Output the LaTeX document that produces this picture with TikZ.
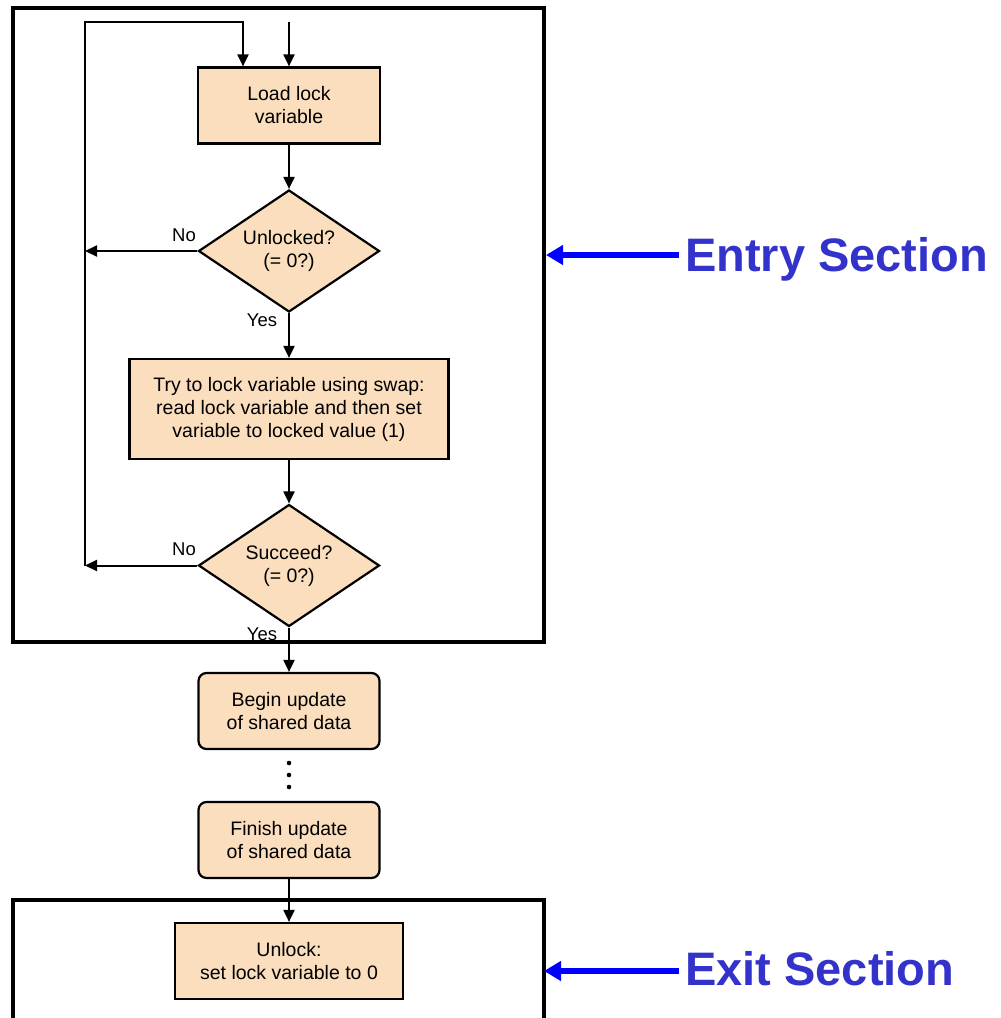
\documentclass[tikz,border=0pt]{standalone}
\usepackage{fontspec}
\setmainfont{Liberation Sans}
\usetikzlibrary{shapes.geometric,arrows.meta}
\definecolor{boxfill}{RGB}{250,222,190}
\definecolor{sectionblue}{RGB}{51,51,204}
\begin{document}
\begin{tikzpicture}[x=1pt,y=-1pt,
  every node/.style={font=\fontsize{19.5}{23}\selectfont, align=center, inner sep=0pt},
  procbox/.style={draw=black, line width=2.2pt, fill=boxfill, rectangle, minimum height=76pt},
  roundbox/.style={procbox, rounded corners=8pt},
  decision/.style={draw=black, diamond, line width=2.2pt, fill=boxfill,
    minimum width=181pt, minimum height=122pt, aspect=1.48},
  flow/.style={line width=2pt, -{Triangle[length=12pt,width=11pt]}},
  frame/.style={line width=4pt},
  callout/.style={draw=blue, line width=5.5pt, -{Triangle[length=17pt,width=19pt]}},
  sectionlabel/.style={font=\fontsize{47}{56}\selectfont\bfseries, text=sectionblue, anchor=base west},
  branch/.style={font=\fontsize{18.5}{22}\selectfont}
]
\useasboundingbox (0,0) rectangle (1001,1018);

% process steps
\node[procbox, minimum width=182pt] (load) at (289,105.5) {Load lock\\variable};
\node[decision] (unlocked) at (289,251) {Unlocked?\\(= 0?)};
\node[procbox, minimum width=319pt, minimum height=100pt] (swap) at (289,409)
  {Try to lock variable using swap:\\read lock variable and then set\\variable to locked value (1)};
\node[decision] (succeed) at (289,565.5) {Succeed?\\(= 0?)};
\node[roundbox, minimum width=181pt] (begin) at (289,711) {Begin update\\of shared data};
\node[roundbox, minimum width=181pt] (finish) at (289,840) {Finish update\\of shared data};
\node[procbox, minimum width=228pt] (unlock) at (289,961) {Unlock:\\set lock variable to 0};

% entry and retry loop
\coordinate (entryIn) at (289,22);
\coordinate (loopTop) at (85,22);
\coordinate (loopIn) at (243,22);
\coordinate (loopBot) at (succeed.west -| loopTop);

\draw[flow] (entryIn) -- (load.north);
\draw[flow] (loopBot) -- (loopTop) -- (loopIn) -- (loopIn |- load.north);
\draw[flow] (unlocked.west) -- (unlocked.west -| loopTop);
\draw[flow] (succeed.west) -- (loopBot);

% main flow
\draw[flow] (load.south) -- (unlocked.north);
\draw[flow] (unlocked.south) -- (swap.north);
\draw[flow] (swap.south) -- (succeed.north);
\draw[flow] (succeed.south) -- (begin.north);
\draw[flow] (finish.south) -- (unlock.north);

% branch labels
\node[branch] (no1) at (184,235) {No};
\node[branch] (yes1) at (262,320) {Yes};
\node[branch] (no2) at (184,549) {No};
\node[branch] (yes2) at (262,634) {Yes};

% elided steps
\fill (289,763) circle (2.3pt);
\fill (289,775) circle (2.3pt);
\fill (289,787) circle (2.3pt);

% section frames
\node[draw=black, frame, minimum width=531pt, minimum height=634pt] (entry) at (278.5,325) {};
\coordinate (exitBL) at (13,1030);
\coordinate (exitTL) at (13,900);
\coordinate (exitTR) at (544,900);
\coordinate (exitBR) at (544,1030);
\draw[frame] (exitBL) -- (exitTL) -- (exitTR) -- (exitBR);

% section callouts
\node[sectionlabel] (entryLabel) at (685,271) {Entry Section};
\node[sectionlabel] (exitLabel) at (685,985) {Exit Section};
\coordinate (entryTail) at (679,255);
\coordinate (exitTail) at (679,971);
\draw[callout] (entryTail) -- (entryTail -| entry.east);
\draw[callout] (exitTail) -- (exitTail -| exitTR);
\end{tikzpicture}
\end{document}
